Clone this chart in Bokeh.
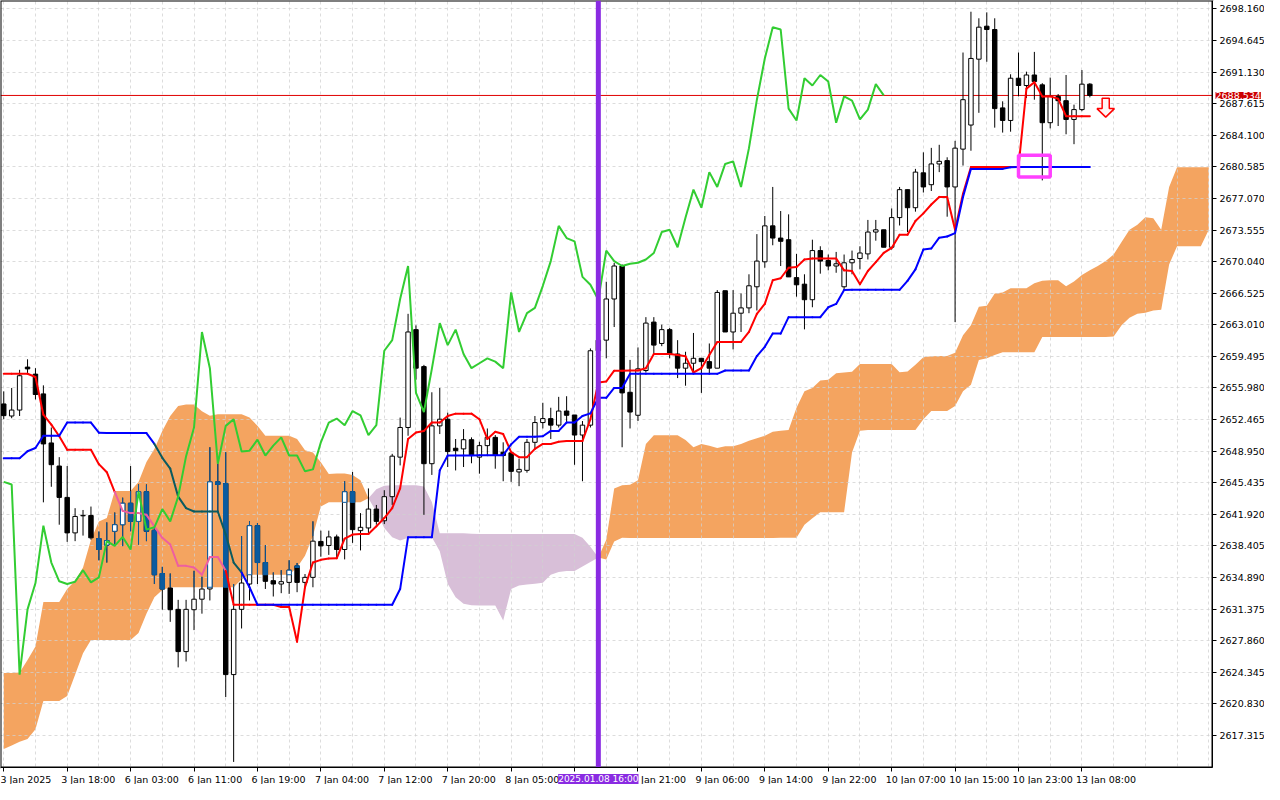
import numpy as np
from bokeh.plotting import figure
from bokeh.models import (Range1d, FixedTicker, NumeralTickFormatter, Span, LinearAxis, Label,
                          BoxAnnotation, Grid)
from bokeh.embed import file_html
from bokeh.resources import INLINE

# ---------------- data (H1 bars, index 0 = 3 Jan 2025 00:00) ----------------
opens = [2654.2, 2652.86, 2653.52, 2658.3, 2657.52, 2655.32, 2649.86, 2647.29, 2643.8, 2639.85,
         2641.75, 2641.79, 2639.22, 2638.49, 2640.03, 2640.76, 2643.15, 2641.13, 2644.43, 2640.14,
         2635.33, 2633.72, 2631.34, 2626.64, 2631.3, 2632.47, 2633.61, 2645.53, 2645.35, 2624.08,
         2631.34, 2634.16, 2640.65, 2636.55, 2634.53, 2634.16, 2634.34, 2636.18, 2634.34, 2634.9,
         2638.9, 2638.45, 2639.4, 2638.0, 2644.43, 2640.1, 2640.4, 2642.5, 2641.2, 2643.88,
         2648.28, 2651.58, 2662.47, 2658.36, 2647.55, 2651.76, 2652.5, 2649.27, 2649.2, 2650.22,
         2648.28, 2649.56, 2650.48, 2648.83, 2648.76, 2646.63, 2646.81, 2649.93, 2652.13, 2652.57,
         2651.84, 2653.41, 2652.97, 2650.74, 2651.84, 2660.12, 2661.3, 2665.88, 2669.55, 2655.5,
         2652.94, 2657.92, 2663.31, 2660.93, 2662.47, 2659.76, 2658.18, 2658.73, 2659.28, 2658.91,
         2658.18, 2666.8, 2662.21, 2664.3, 2664.89, 2667.24, 2670.02, 2674.02, 2672.66, 2672.48,
         2668.26, 2667.53, 2665.8, 2671.27, 2670.17, 2669.55, 2667.24, 2669.91, 2670.39, 2670.9,
         2673.33, 2673.58, 2671.64, 2674.94, 2678.05, 2676.04, 2679.92, 2678.6, 2680.91, 2681.28,
         2678.35, 2682.56, 2685.24, 2692.57, 2696.24, 2695.87, 2687.15, 2685.75, 2690.45, 2689.64,
         2690.81, 2689.71, 2685.5, 2688.43, 2687.95, 2685.86, 2686.96, 2689.79]
highs = [2655.6, 2655.98, 2658.0, 2659.17, 2658.18, 2656.27, 2651.58, 2648.28, 2647.29, 2642.6,
         2642.4, 2642.78, 2640.0, 2641.02, 2642.12, 2643.77, 2647.29, 2645.24, 2645.24, 2640.4,
         2636.07, 2635.33, 2632.4, 2632.4, 2635.63, 2634.97, 2649.38, 2647.55, 2648.83, 2634.16,
         2639.48, 2641.13, 2640.94, 2638.49, 2635.45, 2635.7, 2636.8, 2636.5, 2635.27, 2641.13,
         2640.1, 2640.1, 2639.66, 2645.6, 2646.63, 2642.05, 2644.8, 2642.96, 2644.6, 2648.65,
         2652.68, 2664.23, 2662.95, 2658.55, 2655.5, 2655.98, 2653.23, 2650.3, 2651.4, 2650.48,
         2649.99, 2651.47, 2650.74, 2649.93, 2648.83, 2648.1, 2650.3, 2652.86, 2654.33, 2653.78,
         2654.99, 2655.06, 2652.97, 2652.3, 2660.38, 2662.0, 2667.8, 2669.91, 2669.73, 2659.1,
         2660.49, 2663.86, 2663.86, 2663.02, 2662.65, 2661.3, 2660.01, 2662.1, 2659.28, 2660.93,
         2666.87, 2666.8, 2666.87, 2666.5, 2668.63, 2673.1, 2675.12, 2678.35, 2675.67, 2675.3,
         2670.9, 2668.63, 2672.48, 2671.75, 2670.83, 2671.12, 2670.83, 2671.27, 2671.75, 2674.68,
         2674.68, 2673.58, 2675.96, 2678.35, 2678.05, 2680.36, 2682.2, 2682.7, 2683.04, 2681.65,
         2683.48, 2693.31, 2697.85, 2697.12, 2697.78, 2697.12, 2687.88, 2690.89, 2693.31, 2691.18,
         2693.38, 2689.9, 2690.52, 2688.69, 2690.81, 2687.51, 2691.36, 2689.9]
lows = [2652.5, 2652.61, 2652.86, 2657.63, 2654.7, 2643.25, 2644.98, 2640.76, 2638.85, 2638.93,
        2639.55, 2639.1, 2636.8, 2636.55, 2638.56, 2638.38, 2640.03, 2638.56, 2638.93, 2634.16,
        2631.3, 2629.95, 2624.88, 2625.54, 2629.03, 2630.86, 2632.33, 2642.23, 2621.58, 2614.36,
        2629.21, 2632.33, 2634.16, 2633.61, 2632.77, 2633.14, 2633.06, 2633.25, 2633.8, 2633.8,
        2637.2, 2637.4, 2637.1, 2636.9, 2638.74, 2637.9, 2639.84, 2640.76, 2640.83, 2642.96,
        2647.36, 2650.66, 2656.9, 2641.86, 2646.3, 2650.85, 2647.18, 2646.8, 2647.18, 2647.6,
        2646.44, 2648.46, 2646.99, 2645.6, 2645.53, 2645.05, 2646.55, 2649.2, 2651.47, 2650.3,
        2651.58, 2652.13, 2647.43, 2645.6, 2651.58, 2658.5, 2659.28, 2662.76, 2649.38, 2651.47,
        2652.3, 2657.7, 2659.76, 2660.63, 2659.28, 2657.08, 2656.23, 2657.7, 2655.43, 2657.63,
        2658.18, 2662.21, 2660.27, 2662.21, 2664.3, 2664.6, 2669.36, 2671.86, 2669.55, 2668.34,
        2666.14, 2662.5, 2664.96, 2668.7, 2669.07, 2668.8, 2666.8, 2668.63, 2669.18, 2670.28,
        2672.37, 2671.64, 2671.38, 2674.06, 2673.33, 2675.6, 2677.73, 2677.9, 2680.0, 2675.04,
        2663.31, 2680.73, 2682.38, 2686.6, 2692.28, 2684.95, 2684.4, 2684.5, 2688.43, 2688.25,
        2688.06, 2679.08, 2684.87, 2685.13, 2684.21, 2683.11, 2686.78, 2688.32]
closes = [2652.9, 2653.52, 2657.34, 2658.1, 2655.25, 2649.75, 2647.44, 2643.8, 2639.85, 2641.68,
          2641.8, 2639.3, 2638.0, 2639.0, 2640.76, 2643.15, 2641.13, 2644.43, 2640.03, 2635.19,
          2633.6, 2631.3, 2626.64, 2631.34, 2632.47, 2633.6, 2645.53, 2645.24, 2624.08, 2631.34,
          2634.27, 2640.65, 2636.55, 2634.46, 2634.16, 2634.42, 2635.7, 2634.34, 2634.9, 2638.93,
          2638.4, 2639.4, 2638.0, 2644.43, 2640.21, 2640.47, 2642.5, 2641.13, 2643.88, 2648.39,
          2651.58, 2662.21, 2658.18, 2647.55, 2651.76, 2652.5, 2648.9, 2649.0, 2650.22, 2648.46,
          2649.56, 2650.48, 2648.46, 2648.46, 2646.7, 2646.92, 2649.93, 2652.13, 2652.57, 2651.84,
          2653.41, 2652.94, 2650.74, 2651.84, 2660.12, 2661.3, 2665.88, 2669.55, 2655.43, 2653.3,
          2658.11, 2663.2, 2660.75, 2662.47, 2659.76, 2658.18, 2658.73, 2659.28, 2658.91, 2658.18,
          2666.61, 2662.21, 2664.3, 2664.89, 2667.35, 2670.1, 2674.02, 2672.66, 2672.3, 2668.34,
          2667.46, 2665.8, 2671.27, 2670.1, 2669.55, 2669.8, 2669.91, 2670.28, 2671.0, 2673.33,
          2673.58, 2671.64, 2674.94, 2678.05, 2676.04, 2680.0, 2678.35, 2680.91, 2681.2, 2678.35,
          2682.67, 2688.06, 2692.65, 2696.13, 2695.87, 2687.07, 2685.75, 2690.45, 2689.64, 2690.81,
          2690.08, 2685.5, 2688.43, 2687.95, 2685.86, 2686.96, 2689.79, 2688.534]

tenkan = [2657.56, 2657.56, 2657.56, 2657.56, 2657.2, 2653.0, 2651.9, 2650.6, 2649.1, 2649.1,
          2649.1, 2649.1, 2647.5, 2646.6, 2644.4, 2642.3, 2642.05, 2642.05, 2641.86, 2640.58,
          2639.3, 2638.56, 2636.18, 2636.18, 2636.0, 2635.19, 2637.17, 2637.17, 2635.63, 2631.85,
          2631.85, 2631.85, 2631.85, 2631.85, 2631.85, 2631.6, 2631.6, 2627.74, 2633.8, 2636.55,
          2636.85, 2637.0, 2637.02, 2639.2, 2639.66, 2639.73, 2639.73, 2640.58, 2641.5, 2642.6,
          2644.8, 2650.3, 2651.03, 2651.2, 2652.13, 2652.13, 2652.86, 2653.12, 2653.12, 2653.12,
          2652.5, 2650.3, 2651.1, 2650.85, 2648.83, 2648.28, 2648.28, 2649.2, 2649.75, 2649.75,
          2650.0, 2650.08, 2650.08, 2650.08, 2652.5, 2656.6, 2656.7, 2657.9, 2657.9, 2657.92,
          2657.92, 2658.18, 2659.76, 2659.76, 2659.76, 2659.65, 2659.5, 2657.7, 2658.18, 2659.65,
          2661.1, 2661.1, 2661.1, 2661.1, 2662.21, 2664.23, 2665.33, 2667.97, 2668.19, 2669.36,
          2669.43, 2670.28, 2670.39, 2670.39, 2670.39, 2670.39, 2669.07, 2669.0, 2667.53, 2669.0,
          2669.99, 2671.01, 2671.56, 2673.03, 2673.03, 2674.57, 2675.41, 2676.4, 2677.24, 2677.24,
          2673.58, 2677.6, 2680.58, 2680.58, 2680.58, 2680.58, 2680.58, 2680.58, 2680.58, 2689.29,
          2690.0, 2688.43, 2688.43, 2688.17, 2686.23, 2686.23, 2686.23, 2686.23]
kijun = [2648.17, 2648.17, 2648.17, 2648.94, 2649.3, 2650.66, 2650.66, 2650.66, 2652.13, 2652.13,
         2652.13, 2652.13, 2651.0, 2650.96, 2650.96, 2650.96, 2650.96, 2650.96, 2650.96, 2649.75,
         2648.2, 2647.0, 2643.88, 2642.6, 2642.23, 2642.23, 2642.23, 2642.23, 2639.66, 2636.55,
         2635.45, 2633.8, 2631.85, 2631.85, 2631.85, 2631.85, 2631.85, 2631.85, 2631.85, 2631.85,
         2631.85, 2631.85, 2631.85, 2631.85, 2631.85, 2631.85, 2631.85, 2631.85, 2631.85, 2631.85,
         2633.6, 2639.37, 2639.37, 2639.37, 2639.37, 2646.81, 2648.46, 2648.46, 2648.46, 2648.46,
         2648.5, 2648.5, 2648.5, 2648.5, 2649.7, 2650.55, 2650.55, 2650.55, 2650.6, 2651.2,
         2651.2, 2652.13, 2652.13, 2652.86, 2653.15, 2654.88, 2654.88, 2655.98, 2655.98, 2657.55,
         2657.55, 2657.55, 2657.55, 2657.55, 2657.55, 2657.55, 2657.55, 2657.55, 2657.55, 2657.55,
         2657.55, 2657.92, 2657.92, 2657.92, 2657.92, 2659.53, 2660.56, 2662.03, 2662.03, 2663.86,
         2663.86, 2663.86, 2663.86, 2663.86, 2664.96, 2665.33, 2666.87, 2666.9, 2666.9, 2666.9,
         2666.9, 2666.9, 2666.9, 2666.9, 2667.9, 2669.18, 2671.38, 2671.5, 2672.7, 2672.84,
         2673.21, 2677.24, 2680.36, 2680.36, 2680.36, 2680.36, 2680.36, 2680.55, 2680.58, 2680.58,
         2680.58, 2680.58, 2680.58, 2680.58, 2680.58, 2680.58, 2680.58, 2680.58]

# Senkou spans as plotted (already shifted 26 bars forward), index 0..152
span_a = [2624.26, 2624.26, 2624.3, 2625.7, 2627.2, 2632.15, 2632.15, 2632.15, 2633.6, 2634.53,
          2636.0, 2639.1, 2641.13, 2641.5, 2644.5, 2644.5, 2644.5, 2645.5, 2647.73, 2649.2,
          2651.2, 2652.86, 2653.96, 2654.15, 2654.15, 2653.4, 2652.9, 2653.05, 2653.05, 2653.05,
          2653.05, 2652.68, 2651.76, 2650.66, 2650.66, 2650.66, 2650.66, 2650.3, 2649.05, 2648.8,
          2647.7, 2646.4, 2646.45, 2646.45, 2646.3, 2645.7, 2643.7, 2642.2, 2640.4, 2639.37,
          2639.0, 2639.3, 2639.37, 2639.37, 2639.37, 2637.8, 2634.2, 2632.7, 2631.96, 2631.8,
          2631.78, 2631.78, 2631.78, 2630.1, 2633.6, 2634.0, 2634.1, 2634.2, 2634.3, 2635.2,
          2635.5, 2635.6, 2635.6, 2636.1, 2636.6, 2637.1, 2639.1, 2644.8, 2645.16, 2645.2,
          2645.7, 2649.74, 2650.73, 2650.73, 2650.73, 2650.73, 2650.18, 2649.38, 2649.74, 2649.56,
          2649.3, 2649.49, 2649.49, 2649.74, 2650.1, 2650.37, 2650.66, 2651.1, 2651.21, 2651.3,
          2653.78, 2655.6, 2655.98, 2656.82, 2656.9, 2657.63, 2657.7, 2657.77, 2658.65, 2658.65,
          2658.65, 2658.65, 2658.65, 2657.74, 2657.8, 2658.55, 2659.39, 2659.5, 2659.53, 2659.53,
          2659.9, 2661.84, 2662.95, 2665.03, 2665.14, 2666.5, 2666.61, 2667.09, 2667.09, 2667.09,
          2667.64, 2667.9, 2667.97, 2667.97, 2667.31, 2667.82, 2668.56, 2669.07, 2669.55, 2670.1,
          2670.83, 2672.22, 2673.58, 2674.13, 2674.97, 2674.86, 2673.58, 2678.35, 2680.55, 2680.55,
          2680.55, 2680.55, 2680.55]
span_b = [2615.8, 2616.2, 2616.6, 2616.9, 2618.0, 2621.14, 2621.14, 2621.14, 2621.7, 2624.07,
          2626.45, 2627.93, 2627.93, 2627.93, 2627.93, 2627.93, 2627.93, 2628.7, 2630.86, 2632.7,
          2633.5, 2633.8, 2633.8, 2633.8, 2633.8, 2633.8, 2633.8, 2633.8, 2633.8, 2633.8,
          2634.7, 2635.19, 2635.19, 2635.19, 2635.19, 2635.19, 2635.19, 2636.0, 2637.3, 2639.5,
          2642.8, 2643.25, 2643.25, 2643.25, 2643.25, 2643.25, 2643.7, 2644.7, 2645.1, 2645.16,
          2645.16, 2645.16, 2645.16, 2645.0, 2643.3, 2639.8, 2639.8, 2639.8, 2639.8, 2639.75,
          2639.73, 2639.73, 2639.73, 2639.73, 2639.73, 2639.73, 2639.73, 2639.73, 2639.73, 2639.73,
          2639.73, 2639.73, 2639.73, 2639.3, 2638.3, 2637.1, 2636.9, 2638.9, 2639.3, 2639.29,
          2639.29, 2639.29, 2639.29, 2639.29, 2639.29, 2639.29, 2639.29, 2639.29, 2639.29, 2639.29,
          2639.29, 2639.29, 2639.29, 2639.29, 2639.29, 2639.29, 2639.29, 2639.29, 2639.3, 2639.3,
          2639.3, 2640.76, 2641.49, 2642.15, 2642.15, 2642.15, 2642.15, 2648.8, 2651.21, 2651.3,
          2651.3, 2651.3, 2651.3, 2651.3, 2651.3, 2651.3, 2652.5, 2653.41, 2653.41, 2653.41,
          2653.96, 2655.6, 2656.34, 2659.1, 2659.28, 2659.64, 2659.94, 2659.94, 2659.94, 2659.94,
          2659.94, 2661.66, 2661.66, 2661.66, 2661.66, 2661.66, 2661.66, 2661.66, 2661.66, 2661.66,
          2661.7, 2662.95, 2663.79, 2664.23, 2664.34, 2664.6, 2664.67, 2669.73, 2671.75, 2671.75,
          2671.75, 2671.75, 2673.58]

tick_bars = [0, 8, 16, 24, 32, 40, 48, 56, 64, 72, 80, 88, 96, 104, 112, 120, 128, 136]
tick_labels = ["3 Jan 2025", "3 Jan 18:00", "6 Jan 03:00", "6 Jan 11:00", "6 Jan 19:00",
               "7 Jan 04:00", "7 Jan 12:00", "7 Jan 20:00", "8 Jan 05:00", "",
               "8 Jan 21:00", "9 Jan 06:00", "9 Jan 14:00", "9 Jan 22:00", "10 Jan 07:00",
               "10 Jan 15:00", "10 Jan 23:00", "13 Jan 08:00"]
price_ticks = [2617.315, 2620.830, 2624.345, 2627.860, 2631.375, 2634.890, 2638.405, 2641.920,
               2645.435, 2648.950, 2652.465, 2655.980, 2659.495, 2663.010, 2666.525, 2670.040,
               2673.555, 2677.070, 2680.585, 2684.100, 2687.615, 2691.130, 2694.645, 2698.160]

current_price = 2688.534
vline_bar = 75
vline_label = "2025.01.08 16:00"
box_bars = (128, 132)
box_prices = (2679.47, 2681.89)
arrow_bar = 139
arrow_tip = 2686.12

# ---------------- styles / geometry ----------------
ORANGE = "#F4A460"
THISTLE = "#D8BFD8"
XBLUE = "#0B5B9F"     # black seen through the bullish cloud
PINK = "#EE5FA0"      # red seen through the bullish cloud
TEAL = "#0B5B60"      # blue seen through the bullish cloud
FONT = "DejaVu Sans"
FSIZE = "9.5px"

W_PX, H_PX = 1264, 784          # figure size
CHART_W, CHART_H = 1212, 767    # chart area inside it (axes take the rest)
X0, X1 = -0.41, 152.47          # visible bars in chart area
Y0, Y1 = 2613.74, 2699.1        # visible prices in chart area
bar_px = CHART_W / (X1 - X0)
unit_px = CHART_H / (Y1 - Y0)
XE = X0 + W_PX / bar_px
YS = Y1 - H_PX / unit_px

o = np.array(opens); h = np.array(highs); l = np.array(lows); c = np.array(closes)
n = len(c)
x = np.arange(n)
sa = np.array(span_a); sb = np.array(span_b)
xc = np.arange(len(sa))

p = figure(width=W_PX, height=H_PX, x_range=Range1d(X0, XE), y_range=Range1d(YS, Y1),
           x_axis_location=None, y_axis_location=None, toolbar_location=None,
           output_backend="svg", min_border=0,
           background_fill_color="white", border_fill_color="white")
p.outline_line_color = None

# cloud (below grid)
cloud_top = np.maximum(sa, sb)
p.varea(x=xc, y1=sb, y2=cloud_top, fill_color=ORANGE, level="image")
p.varea(x=xc, y1=sa, y2=cloud_top, fill_color=THISTLE, level="image")

# grid
if len(p.xgrid) == 0:
    p.add_layout(Grid(dimension=0))
if len(p.ygrid) == 0:
    p.add_layout(Grid(dimension=1))
p.xgrid.ticker = FixedTicker(ticks=list(range(0, 153, 4)))
p.ygrid.ticker = FixedTicker(ticks=price_ticks)
for g in (p.xgrid, p.ygrid):
    g.grid_line_color = "#D0D0D0"
    g.grid_line_dash = "3 3"
    g.grid_line_alpha = 0.75

# current price line
p.add_layout(Span(location=current_price, dimension="width", line_color="#E00000",
                  line_width=1, level="underlay"))

# white margins where the axes sit
p.add_layout(BoxAnnotation(left=X1, fill_color="white", fill_alpha=1, line_color=None,
                           level="glyph"))
p.add_layout(BoxAnnotation(top=Y0, fill_color="white", fill_alpha=1, line_color=None,
                           level="glyph"))

# chart border (left / top)
p.quad(left=[X0], right=[X1], bottom=[Y0], top=[Y1], fill_color=None,
       line_color="black", line_width=2)

# candles
bull = c >= o
btop = np.maximum(o, c); bbot = np.minimum(o, c)
W = 0.56
p.segment(x0=x, y0=l, x1=x, y1=h, line_color="black", line_width=1)
p.vbar(x=x, width=W, top=btop, bottom=bbot,
       fill_color=np.where(bull, "white", "black").tolist(), line_color="black", line_width=1)

# parts of candles seen through the bullish (orange) cloud
in_or = sa[:n] > sb[:n]
clo = sb[:n]; chi = sa[:n]
wy0 = np.maximum(l, clo); wy1 = np.minimum(h, chi)
wm = in_or & (wy1 > wy0)
p.segment(x0=x[wm], y0=wy0[wm], x1=x[wm], y1=wy1[wm], line_color=XBLUE, line_width=1)
by0 = np.maximum(bbot, clo); by1 = np.minimum(btop, chi)
bm = in_or & (by1 >= by0)
p.vbar(x=x[bm], width=W, top=by1[bm], bottom=by0[bm],
       fill_color=np.where(bull[bm], "white", XBLUE).tolist(), line_color=XBLUE, line_width=1)


def seg_colors(vals, base, alt):
    v = np.array(vals); k = len(v)
    m = (v[:-1] + v[1:]) / 2
    lo = (sb[:k - 1] + sb[1:k]) / 2
    hi = (sa[:k - 1] + sa[1:k]) / 2
    inside = (sa[:k - 1] > sb[:k - 1]) & (sa[1:k] > sb[1:k]) & (m > lo) & (m < hi)
    return np.where(inside, alt, base).tolist()


t = np.array(tenkan); kj = np.array(kijun)
p.segment(x0=x[:-1], y0=t[:-1], x1=x[1:], y1=t[1:], line_color=seg_colors(t, "#FF0000", PINK),
          line_width=2, line_cap="round")
p.segment(x0=x[:-1], y0=kj[:-1], x1=x[1:], y1=kj[1:], line_color=seg_colors(kj, "#0000FF", TEAL),
          line_width=2, line_cap="round")

# chikou span = close shifted 26 bars back
chikou = c[26:]
p.line(x=np.arange(len(chikou)), y=chikou, line_color="#32CD32", line_width=2)

# annotations on the chart
p.quad(left=[box_bars[0]], right=[box_bars[1]], bottom=[box_prices[0]], top=[box_prices[1]],
       fill_color=None, line_color="#FF40FF", line_width=3.5)
ax = arrow_bar + np.array([-0.45, 0.45, 0.45, 1.1, 0.0, -1.1, -0.45])
ay = arrow_tip + np.array([2.1, 2.1, 0.95, 0.95, 0.0, 0.95, 0.95])
p.patch(ax, ay, fill_color="#FFF4F4", line_color="#FF0000", line_width=1.5)

# vertical marker line
p.segment(x0=[vline_bar], y0=[Y0], x1=[vline_bar], y1=[Y1], line_color="#8A2BE2", line_width=5)

# ---------------- axes (fixed at the chart edges) ----------------
CW = {"0": .636, "1": .636, "2": .636, "3": .636, "4": .636, "5": .636, "6": .636, "7": .636,
      "8": .636, "9": .636, " ": .318, ":": .337, "J": .295, "a": .613, "n": .634, ".": .318}


def left_aligned(s, first):
    # centered label padded on the left -> visible text starts at the tick
    if not s or first:
        return s
    w = sum(CW.get(ch, .6) for ch in s)
    return "\u00a0" * max(int(round(w / .318)) - 4, 0) + s


def style_axis(a, standoff):
    a.axis_line_color = "black"
    a.major_tick_line_color = "black"
    a.major_tick_out = 4
    a.major_tick_in = 0
    a.minor_tick_out = 0
    a.minor_tick_in = 0
    a.major_label_text_font = FONT
    a.major_label_text_font_size = FSIZE
    a.major_label_text_color = "black"
    a.major_label_standoff = standoff


xaxis = LinearAxis(fixed_location=Y0, bounds=(X0, X1), ticker=FixedTicker(ticks=tick_bars),
                   major_label_overrides={b: left_aligned(s, b == tick_bars[0])
                                          for b, s in zip(tick_bars, tick_labels)})
yaxis = LinearAxis(fixed_location=X1, bounds=(Y0, Y1), ticker=FixedTicker(ticks=price_ticks),
                   formatter=NumeralTickFormatter(format="0.000"))
style_axis(xaxis, 2)
style_axis(yaxis, 3)
p.add_layout(xaxis, "below")
p.add_layout(yaxis, "right")

# price tag and time tag
p.add_layout(Label(x=X1, y=current_price, x_offset=3, text=f"{current_price:.3f}",
                   text_color="white", background_fill_color="#CC0000",
                   text_font=FONT, text_font_size=FSIZE, text_align="left",
                   text_baseline="middle"))
p.add_layout(Label(x=vline_bar, y=Y0 - 11.5 / unit_px, text=vline_label, text_color="white",
                   background_fill_color="#8A2BE2", text_font=FONT, text_font_size="9px",
                   text_align="center", text_baseline="middle"))

open("out.html", "w").write(file_html(p, INLINE))
